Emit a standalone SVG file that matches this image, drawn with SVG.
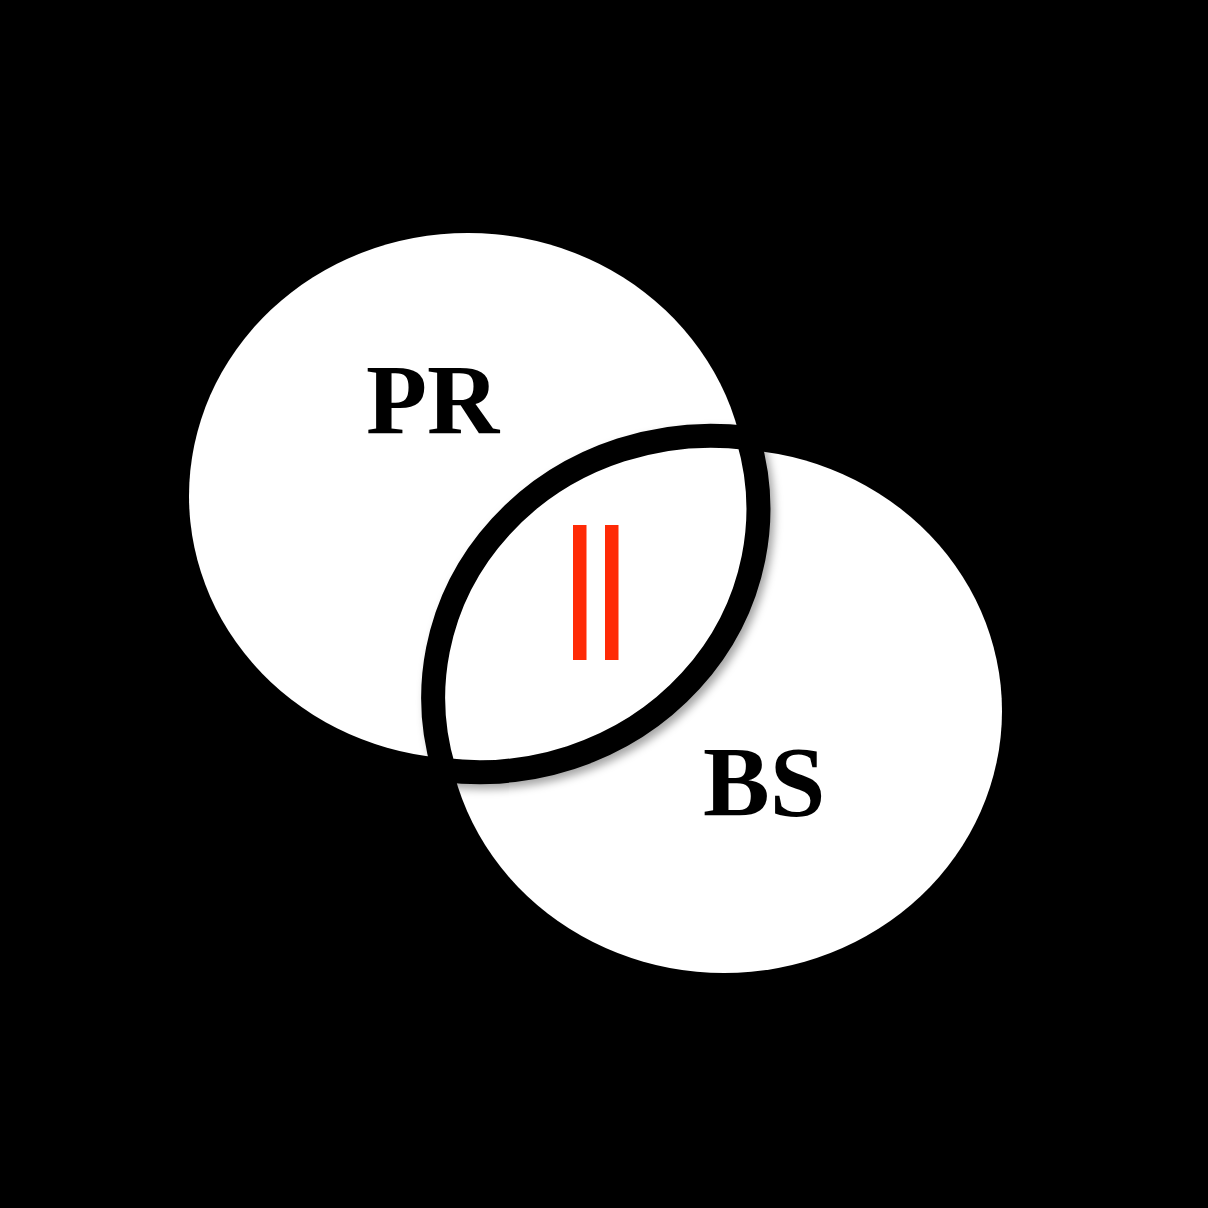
<svg xmlns="http://www.w3.org/2000/svg" width="1208" height="1208" viewBox="0 0 1208 1208">
  <defs>
    <filter id="shadow" x="-10%" y="-10%" width="130%" height="130%">
      <feDropShadow dx="4" dy="5" stdDeviation="4" flood-color="#000" flood-opacity="0.35"/>
    </filter>
    <style>
      .set { fill: #ffffff; }
      .label { font-family: "Liberation Serif", "Times New Roman", serif; font-weight: bold; font-size: 100px; fill: #000; }
      .lens { fill: #ffffff; stroke: #000; stroke-width: 24; stroke-linejoin: round; }
      .bar { fill: #ff2a06; }
    </style>
  </defs>
  <rect x="0" y="0" width="1208" height="1208" fill="#000"/>
  <g id="node-PR">
    <ellipse class="set" cx="468" cy="496" rx="279" ry="263"/>
    <text class="label" x="366" y="433">PR</text>
  </g>
  <g id="node-BS">
    <ellipse class="set" cx="724" cy="711" rx="278" ry="262"/>
    <text class="label" x="703" y="815">BS</text>
  </g>
  <g id="node-intersection">
    <path class="lens" filter="url(#shadow)" d="M 444 770 A 278 262 0 0 1 748 438 A 279 263 0 0 1 444 770 Z"/>
    <rect class="bar" x="573" y="525" width="13.5" height="135"/>
    <rect class="bar" x="605" y="525" width="13.5" height="135"/>
  </g>
  <g id="connectors"></g>
</svg>
